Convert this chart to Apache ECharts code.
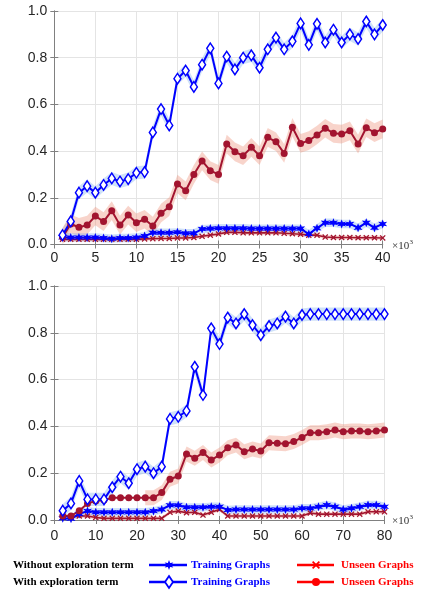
<!DOCTYPE html>
<html>
<head>
<meta charset="utf-8">
<script src="https://cdn.jsdelivr.net/npm/echarts@6.0.0/dist/echarts.min.js"></script>
<style>
  html, body { margin: 0; padding: 0; background: #fff; }
  #chart { width: 427px; height: 593px; }
</style>
</head>
<body>
<div id="chart"></div>
<script>
// Training steps (x10^3) for the upper and lower panels
const topSteps = [1,2,3,4,5,6,7,8,9,10,11,12,13,14,15,16,17,18,19,20,
                  21,22,23,24,25,26,27,28,29,30,31,32,33,34,35,36,37,38,39,40];
const botSteps = [2,4,6,8,10,12,14,16,18,20,22,24,26,28,30,32,34,36,38,40,
                  42,44,46,48,50,52,54,56,58,60,62,64,66,68,70,72,74,76,78,80];

// Upper panel
const topTrainWith = [0.040,0.099,0.222,0.250,0.222,0.255,0.283,0.270,0.280,0.307,
                      0.310,0.480,0.580,0.510,0.710,0.745,0.675,0.770,0.840,0.690,
                      0.805,0.750,0.800,0.810,0.757,0.836,0.886,0.836,0.870,0.947,
                      0.855,0.945,0.865,0.920,0.865,0.900,0.880,0.955,0.900,0.940];
const topUnseenWith = [0.031,0.088,0.074,0.083,0.122,0.098,0.145,0.083,0.126,0.093,
                       0.108,0.079,0.134,0.162,0.259,0.230,0.300,0.358,0.316,0.300,
                       0.430,0.397,0.380,0.416,0.380,0.459,0.440,0.390,0.502,0.433,
                       0.445,0.469,0.498,0.476,0.473,0.487,0.430,0.500,0.479,0.495];
const topTrainWithout = [0.031,0.030,0.030,0.030,0.030,0.028,0.025,0.028,0.028,0.030,
                         0.036,0.050,0.050,0.050,0.052,0.048,0.048,0.066,0.068,0.070,
                         0.070,0.070,0.070,0.068,0.068,0.068,0.068,0.068,0.068,0.068,
                         0.045,0.070,0.093,0.093,0.088,0.088,0.072,0.093,0.072,0.088];
const topUnseenWithout = [0.022,0.022,0.022,0.022,0.022,0.022,0.022,0.022,0.022,0.022,
                          0.024,0.025,0.026,0.026,0.028,0.028,0.030,0.035,0.040,0.045,
                          0.052,0.052,0.050,0.050,0.050,0.050,0.050,0.048,0.046,0.044,
                          0.040,0.040,0.032,0.030,0.030,0.030,0.029,0.029,0.029,0.028];

// Lower panel
const botTrainWith = [0.040,0.071,0.167,0.088,0.088,0.088,0.140,0.185,0.157,0.217,
                      0.228,0.200,0.228,0.432,0.441,0.466,0.655,0.534,0.819,0.752,
                      0.865,0.840,0.880,0.833,0.790,0.829,0.840,0.869,0.840,0.876,
                      0.880,0.880,0.880,0.880,0.880,0.880,0.880,0.880,0.880,0.880];
const botUnseenWith = [0.017,0.017,0.040,0.071,0.081,0.085,0.095,0.095,0.095,0.095,
                       0.095,0.095,0.117,0.174,0.188,0.282,0.264,0.288,0.256,0.278,
                       0.309,0.320,0.292,0.303,0.295,0.330,0.328,0.326,0.335,0.353,
                       0.373,0.373,0.377,0.385,0.377,0.380,0.380,0.377,0.380,0.385];
const botTrainWithout = [0.007,0.005,0.026,0.038,0.033,0.033,0.033,0.033,0.033,0.033,
                         0.033,0.038,0.045,0.063,0.063,0.054,0.054,0.054,0.057,0.057,
                         0.043,0.045,0.045,0.045,0.045,0.045,0.045,0.045,0.045,0.050,
                         0.050,0.057,0.064,0.057,0.045,0.050,0.057,0.064,0.064,0.057];
const botUnseenWithout = [0.021,0.014,0.017,0.017,0.011,0.007,0.007,0.007,0.007,0.007,
                          0.007,0.007,0.007,0.033,0.038,0.031,0.033,0.021,0.033,0.045,
                          0.017,0.017,0.017,0.017,0.017,0.017,0.017,0.017,0.017,0.017,
                          0.030,0.025,0.025,0.025,0.025,0.025,0.025,0.035,0.035,0.035];

// Half-width of the shaded spread around each curve
const spreadTrainWith = 0.028;
const spreadUnseenWith = 0.04;
const spreadTrainWithout = 0.018;
const spreadUnseenWithout = 0.008;
const botUnseenWithSpreadFrom = 22;   // shading of the lower red curve starts here

const topXTicks = [0, 40, 5];
const botXTicks = [0, 80, 10];
const yTicks = [0, 1, 0.2];

const BLUE = '#0000ff';
const DARKRED = '#a2142f';
const LEGEND_RED = '#ff0000';
const BAND_BLUE = 'rgba(110,165,235,0.33)';
const BAND_RED = 'rgba(236,135,110,0.36)';
const FRAME = '#808080';

// Six-pointed star and thick "x" outlines on a 20x20 box
const STAR_PTS = [[10,0],[12.25,6.1],[18.66,5],[14.5,10],[18.66,15],[12.25,13.9],
                  [10,20],[7.75,13.9],[1.34,15],[5.5,10],[1.34,5],[7.75,6.1]];
const CROSS_PTS = [[3,0],[10,7],[17,0],[20,3],[13,10],[20,17],[17,20],[10,13],
                   [3,20],[0,17],[7,10],[0,3]];
const toPath = pts => 'path://M' + pts.map(p => p[0] + ' ' + p[1]).join('L') + 'Z';
const STAR_PATH = toPath(STAR_PTS);
const CROSS_PATH = toPath(CROSS_PTS);

const markerStyles = {
  trainWith: { symbol: 'diamond', symbolSize: [7, 10.5], color: BLUE, fill: '#ffffff', border: 1.5, width: 2 },
  unseenWith: { symbol: 'circle', symbolSize: 7, color: DARKRED, fill: DARKRED, border: 0, width: 2 },
  trainWithout: { symbol: STAR_PATH, symbolSize: 9, color: BLUE, fill: BLUE, border: 0, width: 2 },
  unseenWithout: { symbol: CROSS_PATH, symbolSize: 6, color: DARKRED, fill: DARKRED, border: 0, width: 1.6 }
};

function lineSeries(gi, steps, vals, st) {
  return {
    type: 'line',
    xAxisIndex: gi, yAxisIndex: gi,
    data: steps.map((s, i) => [s, vals[i]]),
    symbol: st.symbol,
    symbolSize: st.symbolSize,
    showSymbol: true,
    lineStyle: { color: st.color, width: st.width },
    itemStyle: { color: st.fill, borderColor: st.color, borderWidth: st.border },
    z: 3,
    silent: true,
    animation: false
  };
}

function bandSeries(gi, steps, vals, spread, fill, from) {
  return {
    type: 'custom',
    xAxisIndex: gi, yAxisIndex: gi,
    data: [[steps[0], vals[0]]],
    renderItem: function (params, api) {
      const up = [], lo = [];
      steps.forEach((s, i) => {
        if (from !== undefined && s < from) return;
        up.push(api.coord([s, vals[i] + spread]));
        lo.push(api.coord([s, Math.max(0, vals[i] - spread)]));
      });
      return { type: 'polygon', shape: { points: up.concat(lo.reverse()) }, style: { fill: fill } };
    },
    z: 1,
    silent: true,
    animation: false
  };
}

const tickLabel = { color: '#262626', fontSize: 14, fontFamily: 'Liberation Sans, Arial, sans-serif' };

function xAxisPair(gi, ticks, margin) {
  const common = {
    type: 'value', gridIndex: gi, min: ticks[0], max: ticks[1], interval: ticks[2],
    axisLine: { show: true, lineStyle: { color: FRAME, width: 1 } },
    axisTick: { show: true, inside: true, length: 4, lineStyle: { color: FRAME } }
  };
  return [
    Object.assign({}, common, {
      position: 'bottom',
      axisLabel: Object.assign({ margin: margin }, tickLabel),
      splitLine: { show: true, lineStyle: { color: '#e4e4e4', width: 1 } }
    }),
    Object.assign({}, common, {
      position: 'top', axisLabel: { show: false }, splitLine: { show: false }
    })
  ];
}

function yAxisPair(gi) {
  const common = {
    type: 'value', gridIndex: gi, min: yTicks[0], max: yTicks[1], interval: yTicks[2],
    axisLine: { show: true, lineStyle: { color: FRAME, width: 1 } },
    axisTick: { show: true, inside: true, length: 4, lineStyle: { color: FRAME } }
  };
  return [
    Object.assign({}, common, {
      position: 'left',
      axisLabel: Object.assign({ margin: 7, formatter: v => v.toFixed(1) }, tickLabel),
      splitLine: { show: true, lineStyle: { color: '#e4e4e4', width: 1 } }
    }),
    Object.assign({}, common, {
      position: 'right', axisLabel: { show: false }, splitLine: { show: false }
    })
  ];
}

const tx = xAxisPair(0, topXTicks, 7);
const bx = xAxisPair(1, botXTicks, 9);
const ty = yAxisPair(0);
const by = yAxisPair(1);

const SERIF_BOLD = 'bold 11px "Liberation Serif", "Times New Roman", serif';

function label(x, y, text, fill, font) {
  return { type: 'text', x: x, y: y, style: { text: text, fill: fill, font: font, textVerticalAlign: 'middle', verticalAlign: 'middle' } };
}

const placePts = (pts, cx, cy, size) => pts.map(p => [cx + (p[0] - 10) * size / 20, cy + (p[1] - 10) * size / 20]);

const starMarker = (cx, cy) => ({ type: 'polygon', shape: { points: placePts(STAR_PTS, cx, cy, 10) }, style: { fill: BLUE } });
const crossMarker = (cx, cy) => ({ type: 'polygon', shape: { points: placePts(CROSS_PTS, cx, cy, 8) }, style: { fill: LEGEND_RED } });
const diamondMarker = (cx, cy) => ({ type: 'polygon', shape: { points: [[cx, cy - 6], [cx + 4, cy], [cx, cy + 6], [cx - 4, cy]] }, style: { fill: '#fff', stroke: BLUE, lineWidth: 1.8 } });
const circleMarker = (cx, cy) => ({ type: 'circle', shape: { cx: cx, cy: cy, r: 4 }, style: { fill: LEGEND_RED } });

// Legend: row label, training entry, unseen entry
function legendRow(y, text, trainMarker, unseenMarker) {
  return [
    label(13, y, text, '#000', SERIF_BOLD),
    { type: 'line', shape: { x1: 149, y1: y, x2: 187, y2: y }, style: { stroke: BLUE, lineWidth: 2.6 } },
    label(191, y, 'Training Graphs', BLUE, SERIF_BOLD),
    { type: 'line', shape: { x1: 297, y1: y, x2: 334, y2: y }, style: { stroke: LEGEND_RED, lineWidth: 2.6 } },
    label(341, y, 'Unseen Graphs', LEGEND_RED, SERIF_BOLD),
    trainMarker(169, y),
    unseenMarker(316, y)
  ];
}

function scaleNote(x, y) {
  return [
    label(x, y, '×10', '#333', '11px "Liberation Serif", "Times New Roman", serif'),
    label(x + 17.5, y - 4, '3', '#333', '7px "Liberation Serif", "Times New Roman", serif')
  ];
}

const chart = echarts.init(document.getElementById('chart'), null, { renderer: 'canvas' });
chart.setOption({
  animation: false,
  backgroundColor: '#ffffff',
  grid: [
    { left: 54.3, top: 11, width: 328.4, height: 233.5, show: false },
    { left: 54.5, top: 286, width: 330, height: 234, show: false }
  ],
  xAxis: [tx[0], bx[0], tx[1], bx[1]],
  yAxis: [ty[0], by[0], ty[1], by[1]],
  series: [
    bandSeries(0, topSteps, topTrainWith, spreadTrainWith, BAND_BLUE),
    bandSeries(0, topSteps, topUnseenWith, spreadUnseenWith, BAND_RED),
    bandSeries(0, topSteps, topTrainWithout, spreadTrainWithout, BAND_BLUE),
    bandSeries(0, topSteps, topUnseenWithout, spreadUnseenWithout, BAND_RED),
    bandSeries(1, botSteps, botTrainWith, spreadTrainWith, BAND_BLUE),
    bandSeries(1, botSteps, botUnseenWith, spreadUnseenWith * 0.8, BAND_RED, botUnseenWithSpreadFrom),
    bandSeries(1, botSteps, botTrainWithout, spreadTrainWithout, BAND_BLUE),
    bandSeries(1, botSteps, botUnseenWithout, spreadUnseenWithout, BAND_RED),

    lineSeries(0, topSteps, topUnseenWithout, markerStyles.unseenWithout),
    lineSeries(0, topSteps, topTrainWithout, markerStyles.trainWithout),
    lineSeries(0, topSteps, topUnseenWith, markerStyles.unseenWith),
    lineSeries(0, topSteps, topTrainWith, markerStyles.trainWith),
    lineSeries(1, botSteps, botUnseenWithout, markerStyles.unseenWithout),
    lineSeries(1, botSteps, botTrainWithout, markerStyles.trainWithout),
    lineSeries(1, botSteps, botUnseenWith, markerStyles.unseenWith),
    lineSeries(1, botSteps, botTrainWith, markerStyles.trainWith)
  ],
  graphic: [].concat(
    scaleNote(392, 246),
    scaleNote(392, 521),
    legendRow(565, 'Without exploration term', starMarker, crossMarker),
    legendRow(582, 'With exploration term', diamondMarker, circleMarker)
  )
});
</script>
</body>
</html>
